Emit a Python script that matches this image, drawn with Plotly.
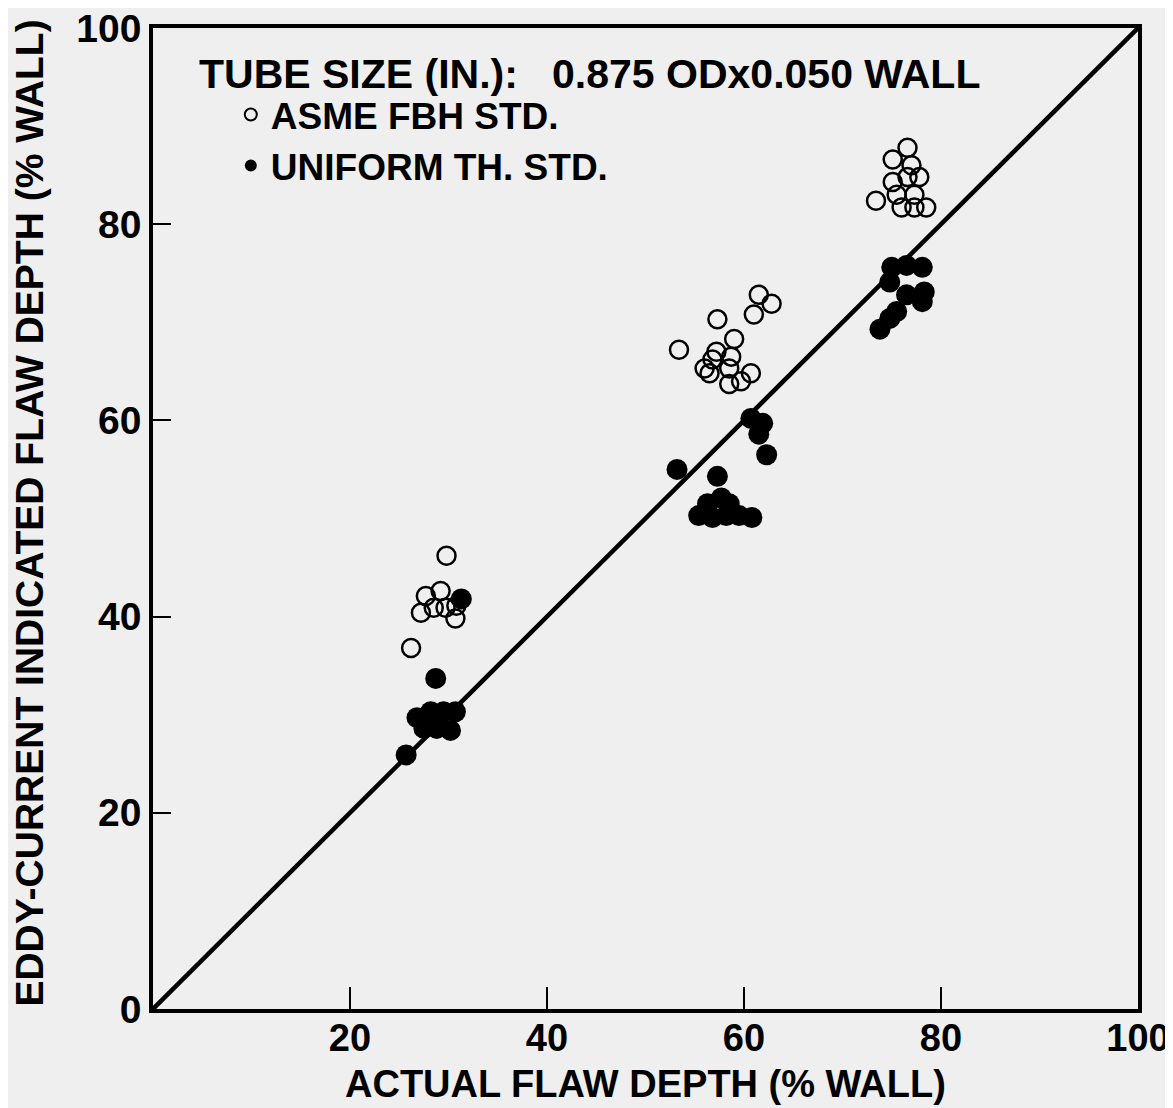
import plotly.graph_objects as go

# ASME FBH STD. (open circles)
asme_x = [29.8, 27.7, 29.2, 27.2, 28.5, 29.7, 30.8, 30.7, 26.2,
          61.5, 62.8, 61.0, 57.3, 53.4, 59.0, 57.2, 58.7, 56.8, 56.0, 58.5, 56.5, 60.7, 58.5, 59.7,
          76.6, 75.1, 77.0, 75.1, 76.6, 77.8, 77.3, 75.5, 73.4, 76.0, 77.3, 78.5]
asme_y = [46.2, 42.1, 42.6, 40.4, 40.9, 40.9, 41.1, 39.8, 36.8,
          72.8, 71.9, 70.8, 70.3, 67.2, 68.3, 67.0, 66.5, 66.2, 65.3, 65.3, 64.8, 64.8, 63.7, 64.0,
          87.8, 86.6, 86.0, 84.3, 84.8, 84.8, 83.0, 83.0, 82.4, 81.7, 81.7, 81.7]

# UNIFORM TH. STD. (filled circles)
unif_x = [31.3, 28.7, 26.8, 28.2, 29.5, 30.7, 27.5, 28.8, 30.2, 25.7,
          60.7, 61.9, 61.5, 62.3, 53.2, 57.3, 57.7, 56.3, 58.5, 55.4, 56.8, 58.2, 59.5, 60.8,
          75.0, 76.5, 78.1, 74.8, 78.3, 76.5, 78.1, 75.5, 74.8, 73.8]
unif_y = [41.8, 33.7, 29.7, 30.3, 30.3, 30.3, 28.6, 28.6, 28.4, 25.9,
          60.2, 59.7, 58.6, 56.5, 55.0, 54.3, 52.1, 51.5, 51.5, 50.3, 50.1, 50.3, 50.3, 50.1,
          75.6, 75.8, 75.6, 74.1, 73.1, 72.8, 72.1, 71.1, 70.4, 69.3]

# Reference line
line_x = [0, 100]
line_y = [0, 100]

x_ticks = [20, 40, 60, 80, 100]
y_ticks = [0, 20, 40, 60, 80, 100]

legend_title = "TUBE SIZE (IN.):   0.875 ODx0.050 WALL"
x_title = "ACTUAL FLAW DEPTH (% WALL)"
y_title = "EDDY-CURRENT INDICATED FLAW DEPTH (% WALL)"

FONT = "Liberation Sans, Arial, sans-serif"
BG = "#efefef"

fig = go.Figure()
fig.add_trace(go.Scatter(x=line_x, y=line_y, mode="lines",
                         line=dict(color="black", width=4.5), showlegend=False, hoverinfo="skip"))
fig.add_trace(go.Scatter(x=asme_x, y=asme_y, mode="markers", name="<b>ASME FBH STD.</b>",
                         marker=dict(symbol="circle-open", size=18, color="black",
                                     line=dict(width=2.5, color="black"))))
fig.add_trace(go.Scatter(x=unif_x, y=unif_y, mode="markers", name="<b>UNIFORM TH. STD.</b>",
                         marker=dict(symbol="circle", size=21, color="black")))

fig.update_layout(
    width=1165, height=1100,
    paper_bgcolor=BG, plot_bgcolor=BG,
    margin=dict(l=145, r=35, t=20, b=99),
    font=dict(family=FONT, color="black", size=32),
    legend=dict(
        x=0.079, y=0.943, xanchor="left", yanchor="top",
        bgcolor="rgba(0,0,0,0)",
        font=dict(family=FONT, size=37),
        itemsizing="constant", tracegroupgap=0, itemwidth=30,
    ),
    showlegend=True,
    annotations=[
        dict(text=f"<b>{legend_title}</b>", xref="paper", yref="paper", x=0.045, y=0.953,
             xanchor="left", yanchor="middle", showarrow=False, font=dict(family=FONT, size=41)),
        dict(text=f"<b>{x_title}</b>", xref="paper", yref="paper", x=0.5, y=0,
             xanchor="center", yanchor="top", yshift=-52, showarrow=False, font=dict(family=FONT, size=38)),
        dict(text=f"<b>{y_title}</b>", xref="paper", yref="paper", x=0, y=0.505, textangle=-90,
             xanchor="center", yanchor="middle", xshift=-123, showarrow=False, font=dict(family=FONT, size=39)),
    ],
)

fig.update_xaxes(
    range=[0, 100], tickvals=x_ticks, ticktext=[f"<b>{t}</b>" for t in x_ticks],
    ticks="inside", ticklen=22, tickwidth=2, tickcolor="black",
    showline=True, linewidth=3.5, linecolor="black", mirror=True,
    showgrid=False, zeroline=False, automargin=False, ticklabeloverflow="allow",
    ticklabelstandoff=-7,
    tickfont=dict(family=FONT, size=38),
)
fig.update_yaxes(
    range=[0, 100], tickvals=y_ticks, ticktext=[f"<b>{t}</b>" for t in y_ticks],
    ticks="inside", ticklen=18, tickwidth=2, tickcolor="black",
    showline=True, linewidth=3.5, linecolor="black", mirror=True,
    showgrid=False, zeroline=False, automargin=False, ticklabeloverflow="allow",
    tickfont=dict(family=FONT, size=39),
)

fig.write_html("out.html")
